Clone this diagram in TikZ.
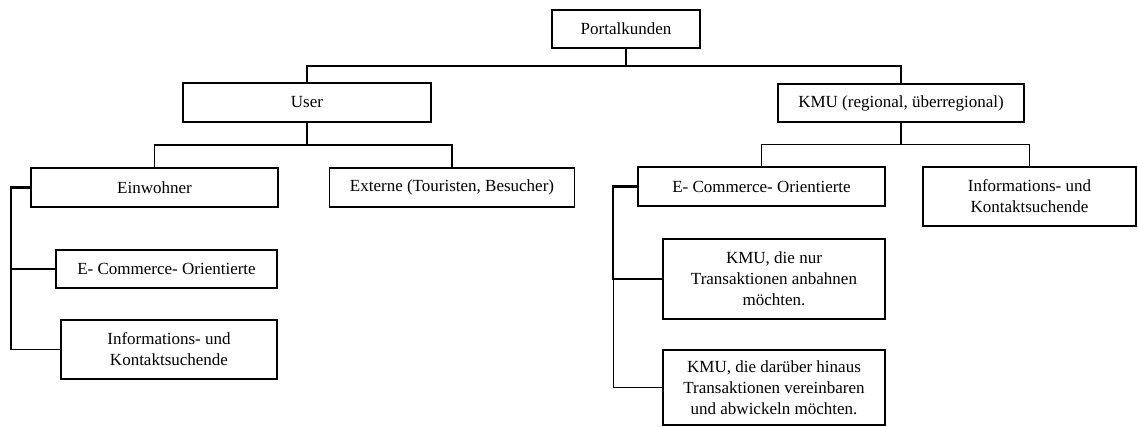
\documentclass[tikz,border=0pt]{standalone}
\usepackage{fontspec}
\setmainfont{Liberation Serif}
\newfontfamily\boxfont{Liberation Serif}
\begin{document}
\begin{tikzpicture}[x=1pt,y=-1pt,
  box/.style={draw, line width=1.3pt, align=center, inner sep=2pt,
    font=\boxfont\fontsize{17}{21}\selectfont},
  link/.style={line width=1.4pt},
  spine/.style={line width=2.2pt}]
\useasboundingbox (0,0) rectangle (1138,426);

% top level
\node[box, minimum width=148pt, minimum height=38pt] (pk) at (626,29) {Portalkunden};

% second level
\node[box, minimum width=248pt, minimum height=39pt] (user) at (307,102.5) {User};
\node[box, minimum width=246pt, minimum height=38pt] (kmu) at (901,103) {KMU (regional, überregional)};

% user branch
\node[box, minimum width=247pt, minimum height=39pt] (einw) at (154.5,187.5) {Einwohner};
\node[box, minimum width=245pt, minimum height=39pt] (ext) at (452,187.5) {Externe (Touristen, Besucher)};
\node[box, minimum width=221pt, minimum height=38pt] (ecl) at (166.5,269) {E- Commerce- Orientierte};
\node[box, minimum width=216pt, minimum height=59pt] (infl) at (169,349.5) {Informations- und\\Kontaktsuchende};

% KMU branch
\node[box, minimum width=247pt, minimum height=39pt] (ecr) at (761.5,186.5) {E- Commerce- Orientierte};
\node[box, minimum width=213pt, minimum height=59pt] (infr) at (1029.5,196.5) {Informations- und\\Kontaktsuchende};
\node[box, minimum width=222pt, minimum height=80pt] (nur) at (774,279) {KMU, die nur\\Transaktionen anbahnen\\möchten.};
\node[box, minimum width=222pt, minimum height=75pt] (dar) at (774,387.5) {KMU, die darüber hinaus\\Transaktionen vereinbaren\\und abwickeln möchten.};

% tree connectors
\draw[link] (pk.south) -- ++(0,17.5) -| (user.north);
\draw[link] (pk.south) -- ++(0,17.5) -| (kmu.north);
\draw[link] (user.south) -- ++(0,22.5) -| (einw.north);
\draw[link] (user.south) -- ++(0,22.5) -| (ext.north);
\draw[link] (kmu.south) -- ++(0,22) -| (ecr.north);
\draw[link] (kmu.south) -- ++(0,22) -| (infr.north);

% side spines
\draw[spine] (einw.west) -- ++(-19.5,0) |- (ecl.west);
\draw[link] (einw.west) -- ++(-19.5,0) |- (infl.west);
\draw[spine] (ecr.west) -- ++(-24,0) |- (nur.west);
\draw[link] (ecr.west) -- ++(-24,0) |- (dar.west);
\end{tikzpicture}
\end{document}
